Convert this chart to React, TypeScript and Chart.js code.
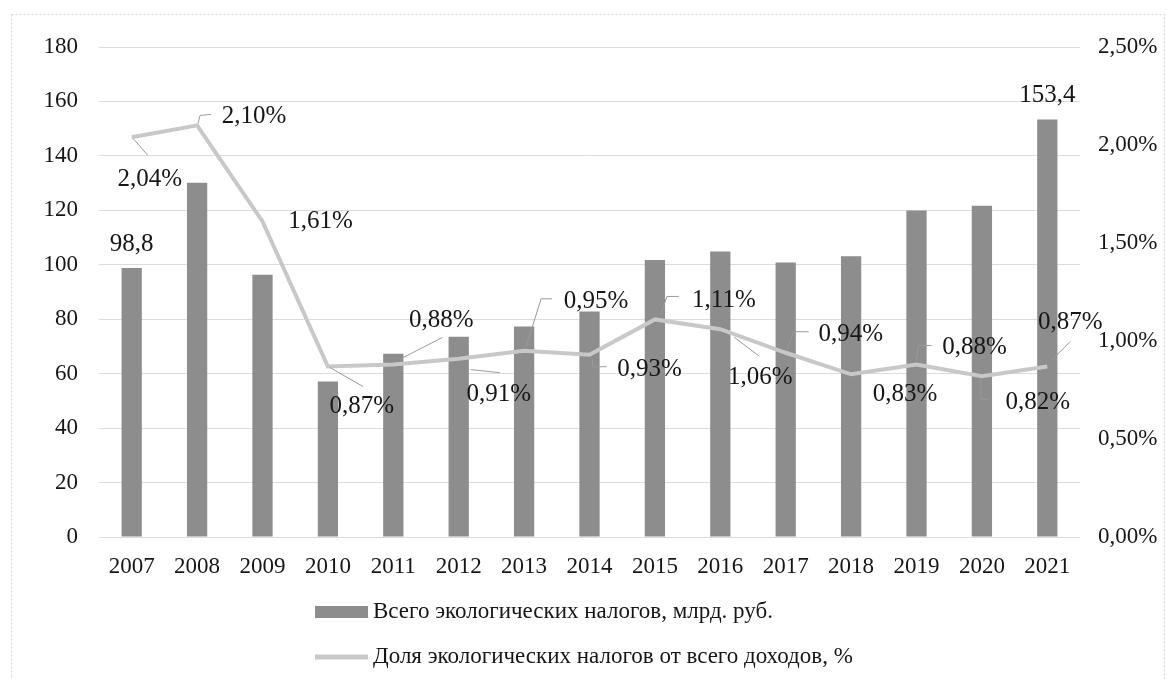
import React, { useEffect, useRef } from 'react';
import { Chart, registerables } from 'chart.js';

Chart.register(...registerables);

const years = ['2007', '2008', '2009', '2010', '2011', '2012', '2013', '2014', '2015', '2016', '2017', '2018', '2019', '2020', '2021'];
const totalTaxes = [98.8, 130.1, 96.3, 57.1, 67.3, 73.6, 77.3, 82.8, 101.8, 104.9, 100.8, 103.1, 119.9, 121.7, 153.4];
const taxShare = [2.04, 2.10, 1.61, 0.87, 0.88, 0.91, 0.95, 0.93, 1.11, 1.06, 0.94, 0.83, 0.88, 0.82, 0.87];
const labelledBarYears = ['2007', '2021'];
const seriesNames = [
  'Всего экологических налогов, млрд. руб.',
  'Доля экологических налогов от всего доходов, %',
];

// label placement relative to each line point (style, not data)
const shareLabelLayout: { dx: number; dy: number; leader: number[][] }[] = [
  { dx: 18, dy: 42, leader: [[2, 2], [16, 18]] },
  { dx: 57, dy: -9, leader: [[1, -2], [3, -10], [14, -11]] },
  { dx: 58, dy: 0, leader: [] },
  { dx: 34, dy: 40, leader: [[2, 1], [35, 20]] },
  { dx: 48, dy: -44, leader: [[6, -5], [49, -27]] },
  { dx: 40, dy: 36, leader: [[12, 11], [41, 14]] },
  { dx: 72, dy: -49, leader: [[2, -4], [17, -52], [28, -52]] },
  { dx: 60, dy: 15, leader: [[3, 5], [3, 12], [17, 12]] },
  { dx: 69, dy: -19, leader: [[6, -5], [12, -23], [24, -23]] },
  { dx: 40, dy: 48, leader: [[14, 8], [39, 27]] },
  { dx: 65, dy: -18, leader: [[1, -3], [8, -21], [23, -21]] },
  { dx: 54, dy: 20, leader: [] },
  { dx: 58, dy: -17, leader: [[0, -5], [2, -19], [15, -19]] },
  { dx: 56, dy: 26, leader: [[-1, 2], [-1, 23], [7, 23]] },
  { dx: 23, dy: -44, leader: [[3, -5], [23, -25]] },
];

const FONT = '"Liberation Serif", "Times New Roman", serif';
const BAR_COLOR = '#8d8d8d';
const LINE_COLOR = '#c8c8c8';
const TEXT_COLOR = '#161616';

const fmtPct = (v: number) => v.toFixed(2).replace('.', ',') + '%';
const fmtNum = (v: number) => v.toFixed(1).replace('.', ',');

const labelsPlugin = {
  id: 'customLabels',
  afterDatasetsDraw(chart: any) {
    const ctx = chart.ctx;
    ctx.save();
    const lineMeta = chart.getDatasetMeta(1);
    ctx.font = `25px ${FONT}`;
    ctx.fillStyle = TEXT_COLOR;
    ctx.textAlign = 'center';
    ctx.textBaseline = 'middle';
    lineMeta.data.forEach((pt: any, i: number) => {
      const lay = shareLabelLayout[i];
      if (lay.leader.length > 1) {
        ctx.beginPath();
        ctx.strokeStyle = '#9a9a9a';
        ctx.lineWidth = 1;
        lay.leader.forEach((p, k) => {
          const x = pt.x + p[0];
          const y = pt.y + p[1];
          if (k === 0) ctx.moveTo(x, y);
          else ctx.lineTo(x, y);
        });
        ctx.stroke();
      }
      ctx.fillText(fmtPct(taxShare[i]), pt.x + lay.dx, pt.y + lay.dy);
    });
    const barMeta = chart.getDatasetMeta(0);
    barMeta.data.forEach((bar: any, i: number) => {
      if (!labelledBarYears.includes(years[i])) return;
      ctx.fillText(fmtNum(totalTaxes[i]), bar.x, bar.y - 24);
    });
    ctx.restore();
  },
  afterDraw(chart: any) {
    const ctx = chart.ctx;
    ctx.save();
    ctx.strokeStyle = '#d4d4d4';
    ctx.lineWidth = 1;
    ctx.setLineDash([2, 2]);
    ctx.strokeRect(11.5, 14.5, 1153, 700);
    ctx.setLineDash([]);
    ctx.font = `23px ${FONT}`;
    ctx.textAlign = 'left';
    ctx.textBaseline = 'middle';
    const rows = [
      { y: 612, color: BAR_COLOR, h: 12 },
      { y: 657, color: LINE_COLOR, h: 5 },
    ];
    rows.forEach((r, i) => {
      ctx.fillStyle = r.color;
      ctx.fillRect(315, r.y - r.h / 2, 53, r.h);
      ctx.fillStyle = TEXT_COLOR;
      ctx.fillText(seriesNames[i], 373, r.y);
    });
    ctx.restore();
  },
};

export default function App() {
  const ref = useRef<HTMLCanvasElement | null>(null);
  useEffect(() => {
    if (!ref.current) return;
    const chart = new Chart(ref.current, {
      type: 'bar',
      data: {
        labels: years,
        datasets: [
          {
            type: 'bar',
            label: seriesNames[0],
            data: totalTaxes,
            backgroundColor: BAR_COLOR,
            barPercentage: 0.31,
            categoryPercentage: 1,
            yAxisID: 'y',
            order: 2,
          },
          {
            type: 'line',
            label: seriesNames[1],
            data: taxShare,
            borderColor: LINE_COLOR,
            borderWidth: 4,
            pointRadius: 0,
            tension: 0,
            yAxisID: 'y1',
            order: 1,
          } as any,
        ],
      },
      options: {
        responsive: false,
        animation: false,
        layout: { padding: { top: 47, left: 0, right: 0, bottom: 0 } },
        plugins: {
          legend: { display: false },
          tooltip: { enabled: false },
        },
        scales: {
          x: {
            grid: { display: false, drawTicks: false },
            border: { display: false },
            ticks: { color: TEXT_COLOR, font: { family: FONT, size: 23 }, padding: 16, maxRotation: 0, autoSkip: false },
            afterFit: (s: any) => { s.height = 142; },
          },
          y: {
            position: 'left',
            min: 0,
            max: 180,
            ticks: { stepSize: 20, color: TEXT_COLOR, font: { family: FONT, size: 23 }, padding: 21 },
            grid: { color: '#dcdcdc', lineWidth: 1, drawTicks: false },
            border: { display: false },
            afterFit: (s: any) => { s.width = 99; },
          },
          y1: {
            position: 'right',
            min: 0,
            max: 2.5,
            ticks: {
              stepSize: 0.5,
              color: TEXT_COLOR,
              font: { family: FONT, size: 23 },
              padding: 18,
              callback: (v: any) => fmtPct(Number(v)),
            },
            grid: { display: false, drawTicks: false },
            border: { display: false },
            afterFit: (s: any) => { s.width = 87; },
          },
        },
      },
      plugins: [labelsPlugin],
    });
    return () => chart.destroy();
  }, []);
  return (
    <div style={{ position: 'absolute', left: 0, top: 0, background: '#fff' }}>
      <canvas ref={ref} width={1167} height={679} />
    </div>
  );
}
